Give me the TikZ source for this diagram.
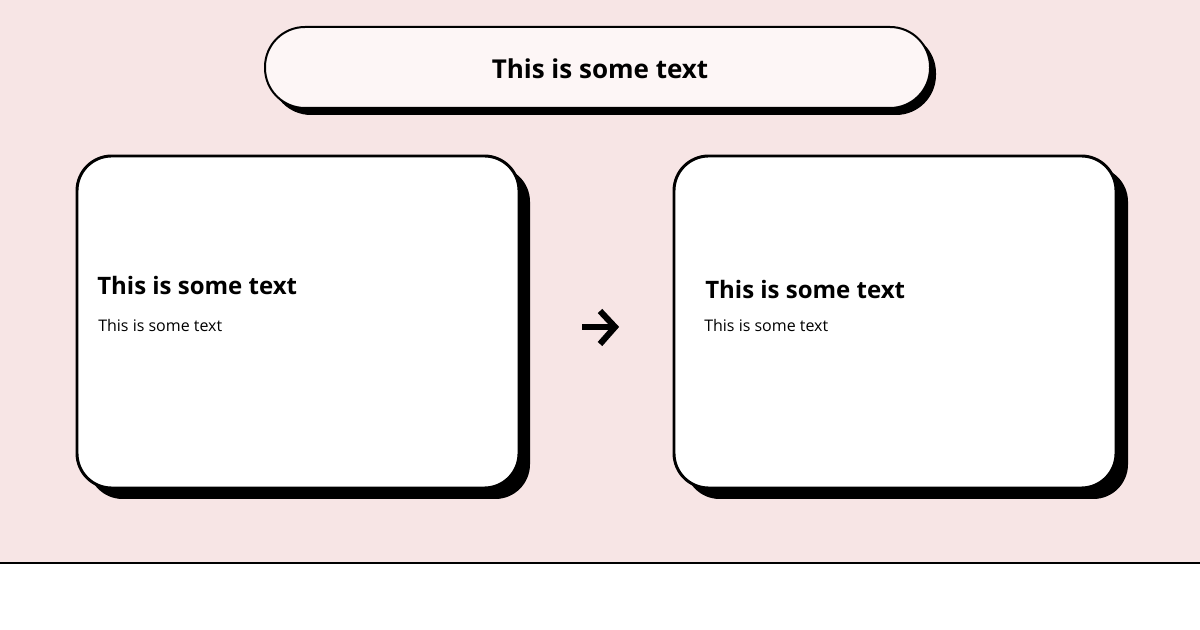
\documentclass[tikz,border=0pt]{standalone}
\usepackage{fontspec}
\setmainfont{Open Sans}
\definecolor{bgpink}{HTML}{F7E5E5}
\definecolor{pillfill}{HTML}{FDF6F6}
\tikzset{
  card/.style={draw=black, line width=2.2pt, fill=white, rounded corners=26pt},
  cardshadow/.style={fill=black, rounded corners=26pt},
  pill/.style={draw=black, line width=1.5pt, fill=pillfill, rounded corners=30pt},
  heading/.style={anchor=base west, inner sep=0pt, font=\bfseries\fontsize{18}{22}\selectfont},
  subtext/.style={anchor=base west, inner sep=0pt, font=\fontsize{12}{15}\selectfont},
  titletext/.style={anchor=base, inner sep=0pt, font=\bfseries\fontsize{19.5}{24}\selectfont},
  arrowline/.style={line width=4.6pt}
}
\begin{document}
\begin{tikzpicture}[x=0.75pt,y=-0.75pt]
\useasboundingbox (0,0) rectangle (1200,630);
\fill[bgpink] (0,0) rectangle (1200,563);
\fill[white] (0,563) rectangle (1200,630);
\draw[line width=1.6pt] (0,563) -- (1200,563);
% title pill
\fill[black, rounded corners=30pt] (271,33) rectangle (936,115);
\draw[pill] (265,27) rectangle (930,108);
\node[titletext] (title) at (600,79) {This is some text};
% left card
\fill[cardshadow] (88,167) rectangle (530,499);
\draw[card] (77,156) rectangle (519,488);
\node[heading] (lh) at (97,295) {This is some text};
\node[subtext] (ls) at (98,332) {This is some text};
% right card
\fill[cardshadow] (685,167) rectangle (1128,499);
\draw[card] (674,156) rectangle (1116,488);
\node[heading] (rh) at (705,299) {This is some text};
\node[subtext] (rs) at (704,332) {This is some text};
% arrow
\coordinate (a1) at (582,327);
\coordinate (a2) at (615,327);
\coordinate (at) at (600,311);
\coordinate (ab) at (600,344);
\draw[arrowline] (a1) -- (a2);
\draw[arrowline, line join=miter] (at) -- (a2) -- (ab);
\end{tikzpicture}
\end{document}
